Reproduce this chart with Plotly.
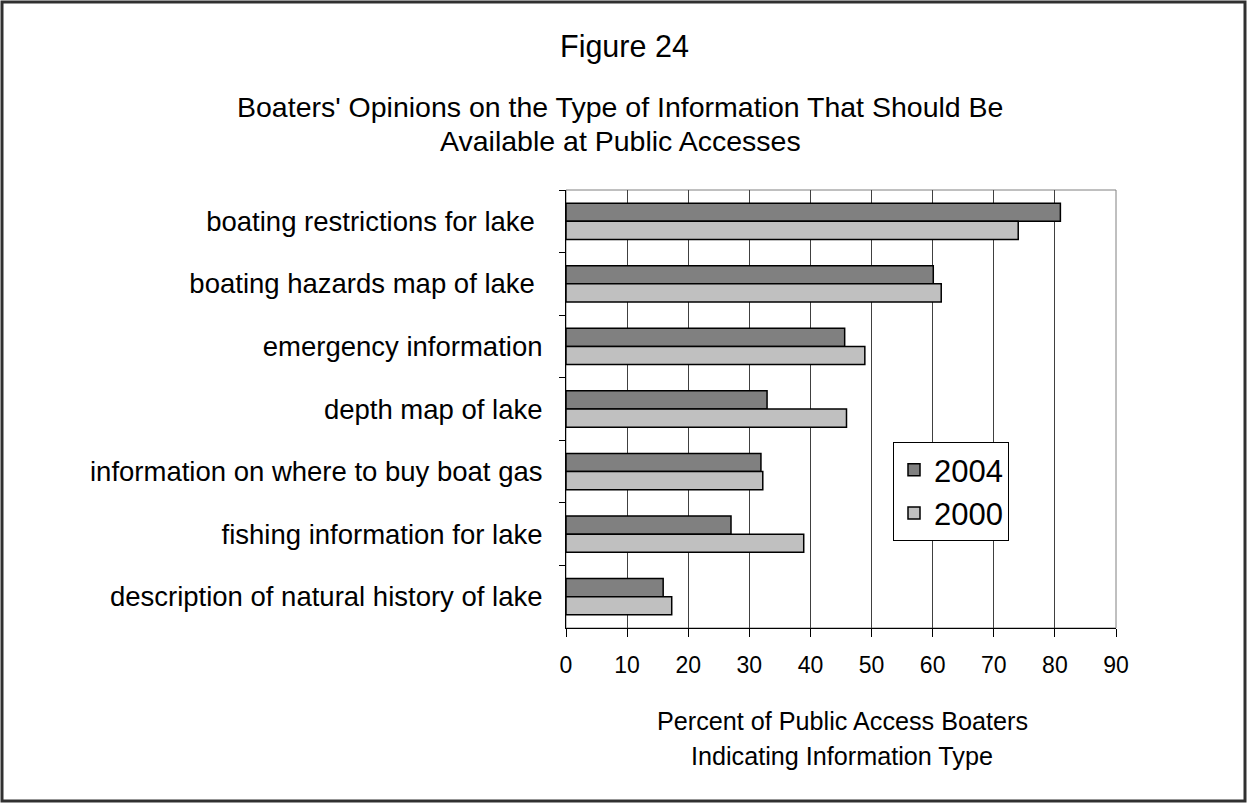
import plotly.graph_objects as go

# data (percent of boaters)
categories = [
    "boating restrictions for lake ",
    "boating hazards map of lake ",
    "emergency information",
    "depth map of lake",
    "information on where to buy boat gas",
    "fishing information for lake",
    "description of natural history of lake",
]
pct_2004 = [80.9, 60.1, 45.6, 32.9, 31.9, 27.0, 15.9]
pct_2000 = [74.0, 61.4, 48.9, 45.9, 32.2, 38.9, 17.3]
x_ticks = [0, 10, 20, 30, 40, 50, 60, 70, 80, 90]

W, H = 1247, 803
L, R, T, B = 566, 131, 190, 175
PW, PH = W - L - R, H - T - B
FONT = "Liberation Sans, Arial, sans-serif"


def px(x):
    return (x - L) / PW


def py(y):
    return (H - B - y) / PH


fig = go.Figure()
fig.add_trace(go.Bar(
    y=categories, x=pct_2004, name="2004", orientation="h",
    marker=dict(color="#808080", line=dict(color="#000000", width=1.5)),
    legendgroup="a",
))
fig.add_trace(go.Bar(
    y=categories, x=pct_2000, name="2000", orientation="h",
    marker=dict(color="#c0c0c0", line=dict(color="#000000", width=1.5)),
    legendgroup="b",
))

shapes = [
    # plot frame (gray top/right)
    dict(type="rect", xref="paper", yref="paper", x0=0, x1=1, y0=0, y1=1,
         line=dict(color="#808080", width=1), layer="below"),
    # outer chart border
    dict(type="rect", xref="paper", yref="paper",
         x0=px(2), x1=px(W - 2), y0=py(2), y1=py(H - 2),
         line=dict(color="#303030", width=3)),
]

annotations = [
    dict(text="Figure 24", x=px(624), y=py(46), font=dict(size=30.5)),
    dict(text="Boaters' Opinions on the Type of Information That Should Be",
         x=px(620), y=py(107), font=dict(size=28.5)),
    dict(text="Available at Public Accesses", x=px(620), y=py(141),
         font=dict(size=28.5)),
    dict(text="Percent of Public Access Boaters", x=px(842), y=py(721),
         font=dict(size=25.2)),
    dict(text="Indicating Information Type", x=px(842), y=py(756),
         font=dict(size=25.2)),
]
for a in annotations:
    a.update(xref="paper", yref="paper", showarrow=False,
             xanchor="center", yanchor="middle")
    a["font"].update(color="#000000", family=FONT)

fig.update_layout(
    width=W, height=H,
    margin=dict(l=L, r=R, t=T, b=B, pad=0),
    paper_bgcolor="white", plot_bgcolor="white",
    font=dict(family=FONT, color="#000000"),
    barmode="group", bargap=0.42, bargroupgap=0,
    shapes=shapes, annotations=annotations,
    legend=dict(
        x=px(893), y=py(442), xanchor="left", yanchor="top",
        bordercolor="#000000", borderwidth=1, bgcolor="white",
        font=dict(size=31), traceorder="normal", tracegroupgap=1,
    ),
    showlegend=True,
)
fig.update_xaxes(
    range=[0, 90], tickvals=x_ticks, ticks="outside", ticklen=8,
    tickcolor="#000000", showline=True, linecolor="#000000", linewidth=1,
    showgrid=True, gridcolor="#404040", gridwidth=1, zeroline=False,
    tickfont=dict(size=23), ticklabelstandoff=8, fixedrange=True,
)
fig.update_yaxes(
    autorange="reversed", type="category", tickson="boundaries",
    ticks="outside", ticklen=6, tickcolor="#000000", showline=True,
    linecolor="#000000", linewidth=1, showgrid=False,
    tickfont=dict(size=27.5), ticklabelstandoff=17, fixedrange=True,
)

fig.write_html(
    "out.html",
    config={"displayModeBar": False},
    post_script="document.body.style.margin='0';document.body.style.overflow='hidden';",
)
